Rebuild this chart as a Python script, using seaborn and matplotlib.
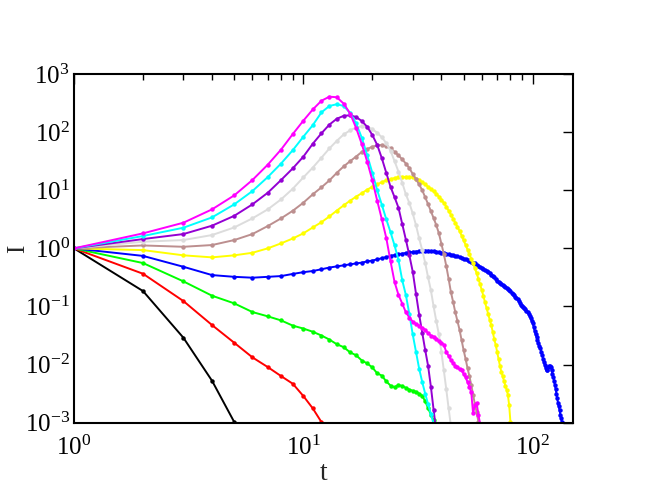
import numpy as np
import pandas as pd
import matplotlib
matplotlib.use("Agg")
import matplotlib.pyplot as plt
from matplotlib.ticker import NullLocator, LogLocator
import seaborn as sns

# log10(I), one value per integer t = 1, 2, 3, ...
log_I_black = [0, -0.735, -1.538, -2.279, -2.99]

log_I_red = [0, -0.437, -0.907, -1.32, -1.625, -1.876, -2.043, -2.198, -2.33, -2.54,
             -2.754, -2.99]

log_I_green = [0, -0.253, -0.568, -0.815, -0.947, -1.096, -1.17, -1.24, -1.33, -1.38,
               -1.435, -1.50, -1.57, -1.65, -1.70, -1.79, -1.84, -1.93, -1.98, -2.05,
               -2.15, -2.19, -2.29, -2.36, -2.39, -2.35, -2.37, -2.40, -2.43, -2.45,
               -2.47, -2.50, -2.54, -2.63, -2.75, -2.86, -2.96, -3.05]

log_I_blue = [0, -0.13, -0.317, -0.46, -0.49, -0.505, -0.49, -0.477, -0.44, -0.41,
              -0.39, -0.36, -0.33, -0.31, -0.29, -0.275, -0.26, -0.245, -0.225, -0.21,
              -0.19, -0.17, -0.15, -0.13, -0.115, -0.10, -0.09, -0.08, -0.07, -0.06,
              -0.055, -0.05, -0.045, -0.04, -0.04, -0.045, -0.05, -0.055, -0.065, -0.075,
              -0.085, -0.09, -0.10, -0.11, -0.12, -0.13, -0.14, -0.15, -0.165, -0.18,
              -0.19, -0.20, -0.215, -0.23, -0.245, -0.26, -0.28, -0.30, -0.32, -0.34,
              -0.355, -0.37, -0.39, -0.41, -0.43, -0.45, -0.47, -0.50, -0.53, -0.56,
              -0.58, -0.60, -0.62, -0.635, -0.65, -0.665, -0.68, -0.70, -0.72, -0.74,
              -0.76, -0.78, -0.80, -0.83, -0.86, -0.88, -0.91, -0.94, -0.97, -0.99,
              -1.01, -1.03, -1.05, -1.07, -1.10, -1.13, -1.16, -1.20, -1.25, -1.29,
              -1.35, -1.42, -1.48, -1.53, -1.58, -1.63, -1.68, -1.72, -1.78, -1.83,
              -1.90, -1.96, -2.01, -2.06, -2.10, -2.09, -2.04, -2.03, -2.02, -2.04,
              -2.10, -2.16, -2.22, -2.28, -2.35, -2.42, -2.50, -2.58, -2.66, -2.72,
              -2.79, -2.86, -2.92, -2.99, -3.1]

log_I_yellow = [0, -0.03, -0.12, -0.155, -0.12, -0.076, 0.0, 0.086, 0.17, 0.258,
                0.36, 0.45, 0.55, 0.65, 0.74, 0.82, 0.89, 0.95, 1.01, 1.06,
                1.10, 1.14, 1.17, 1.19, 1.21, 1.22, 1.23, 1.23, 1.23, 1.22,
                1.20, 1.17, 1.14, 1.10, 1.06, 1.02, 0.98, 0.94, 0.89, 0.84,
                0.78, 0.72, 0.65, 0.58, 0.51, 0.44, 0.37, 0.30, 0.22, 0.14,
                0.06, -0.02, -0.10, -0.18, -0.26, -0.34, -0.43, -0.52, -0.62, -0.72,
                -0.82, -0.93, -1.03, -1.13, -1.23, -1.32, -1.44, -1.56, -1.66, -1.78,
                -1.90, -2.02, -2.12, -2.20, -2.28, -2.36, -2.43, -2.52, -2.70, -2.98]

log_I_brown = [0, 0.05, 0.027, 0.057, 0.143, 0.246, 0.384, 0.516, 0.647, 0.785,
               0.93, 1.05, 1.17, 1.30, 1.41, 1.50, 1.58, 1.66, 1.71, 1.75,
               1.77, 1.78, 1.76, 1.72, 1.66, 1.60, 1.53, 1.46, 1.38, 1.28,
               1.19, 1.10, 1.00, 0.88, 0.76, 0.64, 0.52, 0.40, 0.26, 0.08,
               -0.10, -0.30, -0.52, -0.75, -0.92, -1.10, -1.25, -1.40, -1.58, -1.75,
               -1.90, -2.06, -2.20, -2.35, -2.52, -2.68, -2.82, -2.98]

log_I_grey = [0, 0.114, 0.143, 0.229, 0.36, 0.516, 0.671, 0.843, 1.026, 1.22,
              1.39, 1.56, 1.72, 1.85, 1.96, 2.03, 2.08, 2.10, 2.09, 2.05,
              1.99, 1.91, 1.81, 1.68, 1.50, 1.32, 1.13, 0.93, 0.78, 0.60,
              0.40, 0.17, -0.03, -0.25, -0.50, -0.72, -1.0, -1.25, -1.48, -1.78,
              -2.10, -2.42, -2.75, -3.05]

log_I_violet = [0, 0.16, 0.246, 0.39, 0.56, 0.757, 0.957, 1.176, 1.377, 1.577,
                1.80, 1.98, 2.13, 2.23, 2.28, 2.29, 2.26, 2.19, 2.09, 1.95,
                1.78, 1.55, 1.30, 1.06, 0.88, 0.70, 0.42, 0.15, -0.12, -0.40,
                -0.78, -1.14, -1.45, -1.75, -2.02, -2.38, -2.78, -3.15]

log_I_cyan = [0, 0.212, 0.355, 0.533, 0.757, 0.986, 1.227, 1.46, 1.69, 1.92,
              2.12, 2.34, 2.45, 2.48, 2.45, 2.33, 2.15, 1.90, 1.60, 1.30,
              1.00, 0.75, 0.50, 0.28, 0.05, -0.20, -0.55, -0.80, -1.13, -1.48,
              -1.78, -2.07, -2.30, -2.50, -2.68, -2.85, -3.02]

log_I_magenta = [0, 0.258, 0.441, 0.671, 0.912, 1.176, 1.44, 1.70, 1.967, 2.196,
                 2.39, 2.54, 2.61, 2.60, 2.49, 2.32, 2.07, 1.79, 1.49, 1.17,
                 0.82, 0.50, 0.18, -0.22, -0.58, -0.80, -0.95, -1.10, -1.19, -1.26,
                 -1.30, -1.33, -1.37, -1.40, -1.46, -1.50, -1.52, -1.56, -1.60, -1.62,
                 -1.66, -1.78, -1.85, -1.92, -1.98, -2.02, -2.05, -2.08, -2.10, -2.16,
                 -2.22, -2.30, -2.38, -2.48, -2.84, -2.70, -2.66, -2.86, -3.02]

series = [("black", log_I_black), ("red", log_I_red), ("green", log_I_green),
          ("blue", log_I_blue), ("yellow", log_I_yellow), ("brown", log_I_brown),
          ("grey", log_I_grey), ("violet", log_I_violet), ("cyan", log_I_cyan),
          ("magenta", log_I_magenta)]

colors = {"black": "#000000", "red": "#ff0000", "green": "#00ff00", "blue": "#0000ff",
          "yellow": "#ffff00", "brown": "#bc8f8f", "grey": "#dcdcdc", "violet": "#9400d3",
          "cyan": "#00ffff", "magenta": "#ff00ff"}

#Build one long table for seaborn
rows = []
for name, vals in series:
    for i, v in enumerate(vals):
        rows.append((name, i + 1, 10.0 ** v))
df = pd.DataFrame(rows, columns=["curve", "t", "I"])

sns.set_style("white")
plt.rcParams['font.family'] = ['Liberation Serif', 'DejaVu Serif']
plt.rcParams['mathtext.fontset'] = 'custom'
plt.rcParams['mathtext.rm'] = 'Liberation Serif'
plt.rcParams['mathtext.it'] = 'Liberation Serif:italic'

fig = plt.figure(figsize=(6.45, 4.98), dpi=100)
ax = fig.add_axes([0.1147, 0.1512, 0.7737, 0.7002])

sns.lineplot(data=df, x="t", y="I", hue="curve", hue_order=[s[0] for s in series],
             palette=colors, marker="o", markersize=3.2, markeredgewidth=0,
             linewidth=1.4, sort=False, estimator=None, legend=False, ax=ax)

ax.set_xscale("log")
ax.set_yscale("log")
ax.set_xlim(1, 150)
ax.set_ylim(1e-3, 1e3)
ax.yaxis.set_major_locator(LogLocator(base=10, numticks=10))
ax.yaxis.set_minor_locator(NullLocator())

for s in ax.spines.values():
    s.set_linewidth(1.5)
    s.set_color("black")

ax.tick_params(which="both", direction="in", top=True, right=True, colors="black")
ax.tick_params(which="major", length=7, width=1.0, labelsize=18)
ax.tick_params(which="minor", length=4, width=1.0)
ax.tick_params(axis="x", which="major", pad=9)
ax.tick_params(axis="y", which="major", pad=3)

ax.set_xlabel("t", fontsize=20, labelpad=1)
ax.set_ylabel("I", fontsize=18)
ax.yaxis.set_label_coords(-0.09, 0.5)

fig.savefig("out.png", dpi=100)
